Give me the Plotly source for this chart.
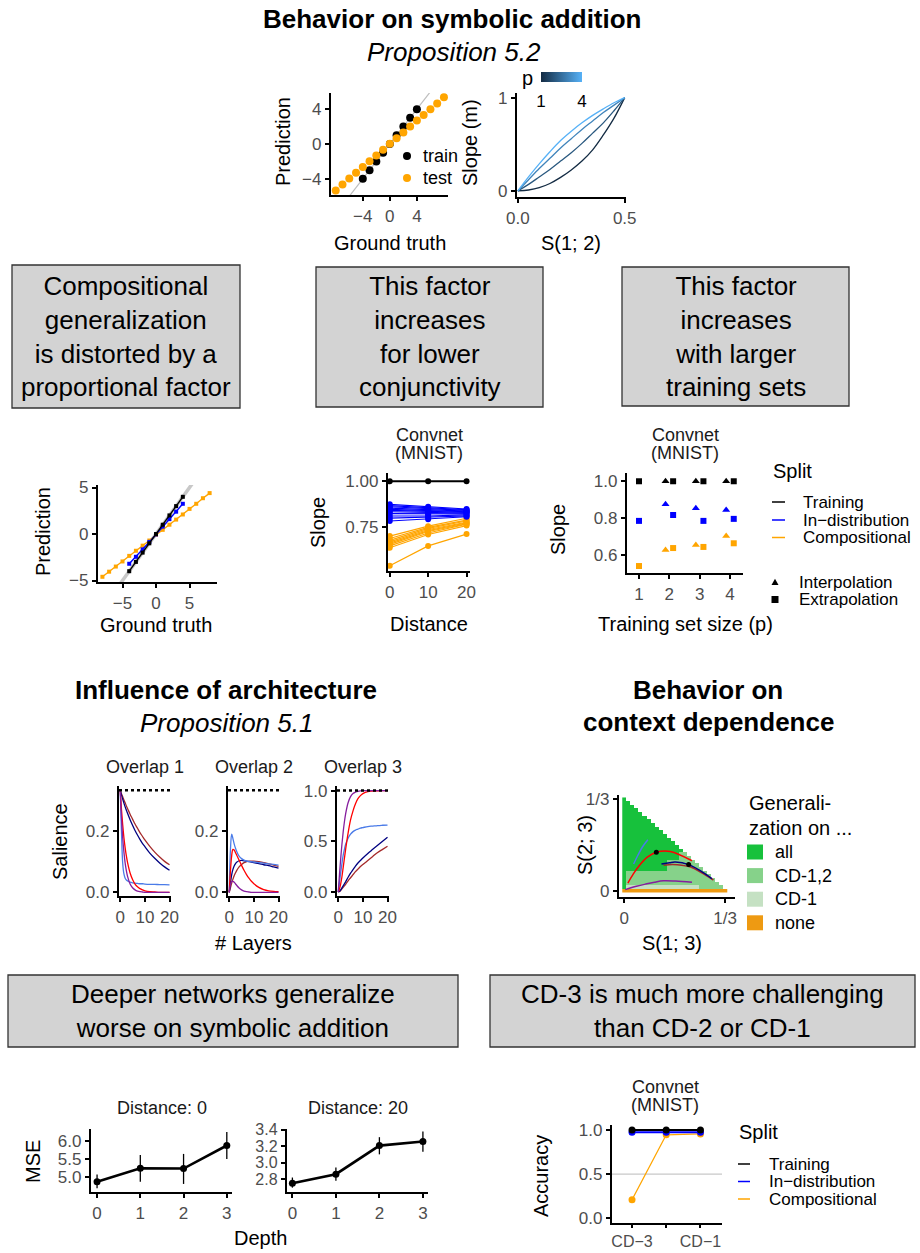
import plotly.graph_objects as go

W, H = 920, 1253
FONT = "Liberation Sans, Arial, sans-serif"
GREY_TICK = "#4D4D4D"
STRIP = "#1A1A1A"
ORANGE = "#FFA500"
BLUE = "#0000FF"
BLACK = "#000000"
C_BROWN = "#A52A2A"
C_NAVY = "#000080"
C_BLUE = "#4A7BE8"
C_RED = "#FF0000"
C_PURPLE = "#861E9E"

# ---------------- data ----------------
# symbolic addition: prediction vs ground truth
sa_train_truth = [-4, -3, -2, -1, 0, 1, 2, 3, 4]
sa_train_pred = [-4, -3, -2, -1, 0, 1, 2, 3, 4]
sa_test_truth = [-8, -7, -6, -5, -4, -3, -2, -1, 0, 1, 2, 3, 4, 5, 6, 7, 8]
sa_test_pred = [-5.33, -4.65, -3.96, -3.31, -2.63, -1.98, -1.33, -0.65, 0.02,
                0.67, 1.33, 2.0, 2.69, 3.33, 3.98, 4.65, 5.37]
identity_line = [-10, 10]

# slope m vs S(1;2) for p = 1..4
s12 = [0, 0.05, 0.1, 0.15, 0.2, 0.25, 0.3, 0.35, 0.4, 0.45, 0.5]
slope_p1 = [0, 0.01, 0.035, 0.08, 0.145, 0.225, 0.32, 0.44, 0.6, 0.78, 1.0]
slope_p2 = [0, 0.07, 0.15, 0.23, 0.32, 0.41, 0.51, 0.62, 0.73, 0.86, 1.0]
slope_p3 = [0, 0.12, 0.24, 0.35, 0.46, 0.56, 0.66, 0.75, 0.84, 0.92, 1.0]
slope_p4 = [0, 0.15, 0.29, 0.42, 0.54, 0.64, 0.73, 0.81, 0.88, 0.945, 1.0]
p_values = [1, 2, 3, 4]
p_colors = ["#132B43", "#29587F", "#4084BB", "#56B1F7"]

# convnet prediction vs ground truth
cn_train_truth = [-4, -3, -2, -1, 0, 1, 2, 3, 4]
cn_train_pred = [-4, -3, -2, -1, 0, 1, 2, 3, 4]
cn_id_truth = [-4, -3, -2, -1, 0, 1, 2, 3, 4]
cn_id_pred = [-3.2, -2.45, -1.65, -0.85, -0.05, 0.8, 1.6, 2.4, 3.25]
cn_comp_truth = [-8, -7, -6, -5, -4, -3, -2, -1, 0, 1, 2, 3, 4, 5, 6, 7, 8]
cn_comp_pred = [-4.6, -4.05, -3.5, -2.95, -2.35, -1.8, -1.25, -0.7, -0.1,
                0.45, 1.0, 1.55, 2.1, 2.7, 3.25, 3.85, 4.4]

# slope vs distance
distance = [0, 10, 20]
slope_train = [1.0, 1.0, 1.0]
slope_id = [
    [0.875, 0.862, 0.850], [0.868, 0.857, 0.846], [0.862, 0.852, 0.842],
    [0.855, 0.846, 0.838], [0.848, 0.840, 0.835], [0.842, 0.835, 0.832],
    [0.835, 0.830, 0.828], [0.825, 0.822, 0.823], [0.812, 0.812, 0.818],
    [0.800, 0.805, 0.812], [0.785, 0.795, 0.808]]
slope_comp = [
    [0.703, 0.757, 0.800], [0.690, 0.750, 0.790], [0.680, 0.745, 0.785],
    [0.672, 0.739, 0.778], [0.665, 0.733, 0.775], [0.658, 0.728, 0.770],
    [0.650, 0.720, 0.768], [0.640, 0.712, 0.760], [0.542, 0.650, 0.714]]

# slope vs training set size
train_size = [1, 2, 3, 4]
ts_train_interp = [None, 1.0, 1.0, 1.0]
ts_train_extrap = [1.0, 1.0, 1.0, 1.0]
ts_id_interp = [None, 0.875, 0.853, 0.844]
ts_id_extrap = [0.784, 0.816, 0.784, 0.795]
ts_comp_interp = [None, 0.625, 0.653, 0.702]
ts_comp_extrap = [0.538, 0.636, 0.642, 0.662]

# salience vs number of layers
layers = [0, 0.5, 1, 1.5, 2, 2.5, 3, 4, 5, 6, 7, 8, 9, 10, 12, 14, 16, 18, 20]
ov1_brown = [0.333, 0.322, 0.312, 0.301, 0.292, 0.282, 0.273, 0.255, 0.239, 0.223, 0.209, 0.195, 0.183, 0.171, 0.150, 0.131, 0.115, 0.101, 0.090]
ov1_navy = [0.333, 0.318, 0.304, 0.291, 0.279, 0.268, 0.257, 0.237, 0.219, 0.202, 0.187, 0.173, 0.160, 0.149, 0.128, 0.111, 0.096, 0.083, 0.072]
ov1_blue = [0.333, 0.200, 0.095, 0.060, 0.046, 0.040, 0.037, 0.033, 0.031, 0.030, 0.029, 0.028, 0.028, 0.027, 0.026, 0.026, 0.025, 0.025, 0.024]
ov1_red = [0.333, 0.271, 0.220, 0.178, 0.145, 0.118, 0.096, 0.063, 0.042, 0.027, 0.018, 0.012, 0.008, 0.005, 0.002, 0.001, 0.0, 0.0, 0.0]
ov1_purple = [0.333, 0.244, 0.178, 0.131, 0.095, 0.070, 0.051, 0.027, 0.015, 0.008, 0.004, 0.002, 0.001, 0.0, 0.0, 0.0, 0.0, 0.0, 0.0]
ov2_brown = [0, 0.015, 0.03, 0.043, 0.054, 0.063, 0.071, 0.083, 0.091, 0.097, 0.100, 0.102, 0.102, 0.102, 0.100, 0.097, 0.093, 0.089, 0.085]
ov2_navy = [0, 0.03, 0.058, 0.075, 0.086, 0.093, 0.098, 0.103, 0.104, 0.103, 0.102, 0.100, 0.099, 0.097, 0.094, 0.090, 0.087, 0.083, 0.079]
ov2_blue = [0, 0.14, 0.19, 0.175, 0.158, 0.145, 0.134, 0.118, 0.110, 0.105, 0.102, 0.101, 0.100, 0.099, 0.097, 0.095, 0.093, 0.091, 0.089]
ov2_red = [0, 0.07, 0.12, 0.14, 0.138, 0.130, 0.122, 0.105, 0.088, 0.072, 0.058, 0.046, 0.036, 0.028, 0.016, 0.009, 0.005, 0.003, 0.002]
ov2_purple = [0, 0.025, 0.035, 0.036, 0.033, 0.028, 0.023, 0.014, 0.008, 0.004, 0.002, 0.001, 0.0, 0.0, 0.0, 0.0, 0.0, 0.0, 0.0]
ov3_brown = [0, 0.004, 0.015, 0.03, 0.045, 0.06, 0.075, 0.11, 0.14, 0.17, 0.2, 0.225, 0.25, 0.27, 0.31, 0.35, 0.39, 0.42, 0.45]
ov3_navy = [0, 0.005, 0.02, 0.04, 0.06, 0.08, 0.10, 0.145, 0.185, 0.22, 0.255, 0.285, 0.31, 0.335, 0.38, 0.42, 0.46, 0.50, 0.54]
ov3_blue = [0, 0.09, 0.19, 0.28, 0.36, 0.42, 0.47, 0.53, 0.57, 0.595, 0.61, 0.62, 0.63, 0.635, 0.645, 0.65, 0.655, 0.658, 0.66]
ov3_red = [0, 0.03, 0.08, 0.15, 0.24, 0.33, 0.42, 0.58, 0.71, 0.80, 0.87, 0.92, 0.95, 0.97, 0.99, 0.995, 0.998, 1.0, 1.0]
ov3_purple = [0, 0.17, 0.33, 0.47, 0.59, 0.69, 0.77, 0.88, 0.94, 0.97, 0.985, 0.993, 0.997, 0.999, 1.0, 1.0, 1.0, 1.0, 1.0]
salience_ceiling = [1 / 3, 1 / 3, 1.0]

# context dependence map
cd_n = 25
cd1_top = [0] + [1] * 18 + [0] * 7
cd12_top = [0] + [5] * 10 + [8] * 3 + [10] * 2 + [25] * 10
cd_labels = ["all", "CD-1,2", "CD-1", "none"]
cd_colors = ["#17C13C", "#86D28A", "#C5E1C3", "#EE9A12"]
cd_blue_x = [0.031, 0.045, 0.06, 0.078]
cd_blue_y = [0.098, 0.13, 0.16, 0.186]
cd_red_x = [0.012, 0.03, 0.048, 0.075, 0.106, 0.152, 0.224]
cd_red_y = [0.029, 0.062, 0.09, 0.122, 0.141, 0.144, 0.110]
cd_navy_x = [0.123, 0.15, 0.169, 0.213, 0.25, 0.29]
cd_navy_y = [0.098, 0.103, 0.105, 0.096, 0.075, 0.045]
cd_brown_x = [0.13, 0.16, 0.19, 0.22, 0.255, 0.295]
cd_brown_y = [0.094, 0.096, 0.094, 0.087, 0.067, 0.040]
cd_purple_x = [0.003, 0.04, 0.07, 0.1, 0.13, 0.17, 0.224]
cd_purple_y = [0.005, 0.017, 0.025, 0.032, 0.037, 0.036, 0.032]
cd_dot_x = [0.106, 0.213]
cd_dot_y = [0.141, 0.096]

# MSE vs depth
depth = [0, 1, 2, 3]
mse_d0 = [4.88, 5.25, 5.24, 5.87]
mse_d0_lo = [4.70, 4.88, 4.82, 5.50]
mse_d0_hi = [5.08, 5.61, 5.64, 6.24]
mse_d20 = [2.747, 2.858, 3.207, 3.257]
mse_d20_lo = [2.693, 2.776, 3.10, 3.133]
mse_d20_hi = [2.817, 2.94, 3.31, 3.38]

# accuracy per CD split
cd_split = ["CD−3", "CD−2", "CD−1"]
acc_train = [1.0, 1.0, 1.0]
acc_id = [0.975, 0.975, 0.975]
acc_comp = [0.21, 0.945, 0.955]
acc_chance = 0.5

# ---------------- helpers ----------------
layout_axes = {}


def axis_pair(n, xpx, ypx, xr, yr, xt, yt, xtt=None, ytt=None, tsize=17, xtsize=None):
    sx = "" if n == 1 else str(n)
    common = dict(showline=True, linecolor="black", linewidth=2.2, ticks="outside",
                  ticklen=4, tickwidth=2, tickcolor="black", showgrid=False,
                  zeroline=False, fixedrange=True, automargin=False)
    xa = dict(domain=[xpx[0] / W, xpx[1] / W], range=xr, anchor="y" + sx, tickvals=xt,
              tickfont=dict(family=FONT, size=xtsize or tsize, color=GREY_TICK), **common)
    ya = dict(domain=[1 - ypx[1] / H, 1 - ypx[0] / H], range=yr, anchor="x" + sx, tickvals=yt,
              tickfont=dict(family=FONT, size=tsize, color=GREY_TICK), **common)
    if xtt is not None:
        xa["ticktext"] = xtt
    if ytt is not None:
        ya["ticktext"] = ytt
    layout_axes["xaxis" + sx] = xa
    layout_axes["yaxis" + sx] = ya
    return "x" + sx, "y" + sx


annotations = []
shapes = []


def px(x):
    return x / W


def py(y):
    return 1 - y / H


def txt(x, y, text, size=20, color="black", angle=0, xanchor="center"):
    annotations.append(dict(x=px(x), y=py(y), xref="paper", yref="paper", text=text,
                            showarrow=False, font=dict(family=FONT, size=size, color=color),
                            textangle=angle, xanchor=xanchor, yanchor="middle"))


def box(x0, y0, x1, y1, text):
    shapes.append(dict(type="rect", xref="paper", yref="paper", x0=px(x0), x1=px(x1),
                       y0=py(y1), y1=py(y0), fillcolor="#D3D3D3",
                       line=dict(color="#333333", width=1.3), layer="below"))
    txt((x0 + x1) / 2, (y0 + y1) / 2, text, size=26)


def hline_key(x0, x1, y, color):
    shapes.append(dict(type="line", xref="paper", yref="paper", x0=px(x0), x1=px(x1),
                       y0=py(y), y1=py(y), line=dict(color=color, width=1.5)))


def rect_key(x0, y0, x1, y1, color):
    shapes.append(dict(type="rect", xref="paper", yref="paper", x0=px(x0), x1=px(x1),
                       y0=py(y1), y1=py(y0), fillcolor=color, line=dict(width=0)))


def circle_key(x, y, r, color):
    shapes.append(dict(type="circle", xref="paper", yref="paper", x0=px(x - r), x1=px(x + r),
                       y0=py(y + r), y1=py(y - r), fillcolor=color, line=dict(width=0)))


def tri_key(x, y, s, color):
    path = "M {:.5f},{:.5f} L {:.5f},{:.5f} L {:.5f},{:.5f} Z".format(
        px(x - s), py(y + s * 0.85), px(x + s), py(y + s * 0.85), px(x), py(y - s * 0.95))
    shapes.append(dict(type="path", xref="paper", yref="paper", path=path,
                       fillcolor=color, line=dict(width=0)))


traces = []


def line(xa, ya, x, y, color, width=1.3, mode="lines", msize=6, symbol="circle", shape="linear"):
    traces.append(go.Scatter(x=x, y=y, xaxis=xa, yaxis=ya, mode=mode,
                             line=dict(color=color, width=width, shape=shape),
                             marker=dict(color=color, size=msize, symbol=symbol),
                             hoverinfo="skip", showlegend=False))


# ---------------- top: symbolic addition ----------------
txt(452, 19, "<b>Behavior on symbolic addition</b>", size=26)
txt(454, 52, "<i>Proposition 5.2</i>", size=26)

xa, ya = axis_pair(1, (331, 448), (93, 195), [-8.7, 8.6], [-5.85, 5.85],
                   [-4, 0, 4], [-4, 0, 4], ["−4", "0", "4"], ["−4", "0", "4"])
line(xa, ya, identity_line, identity_line, "#BEBEBE", width=1.2)
line(xa, ya, sa_train_truth, sa_train_pred, BLACK, mode="markers", msize=8)
line(xa, ya, sa_test_truth, sa_test_pred, ORANGE, mode="markers", msize=8)
txt(283, 142, "Prediction", angle=-90)
txt(390, 243, "Ground truth")
circle_key(407, 156, 4, BLACK)
circle_key(407, 178, 4, ORANGE)
txt(421, 156, "train", size=18, xanchor="left")
txt(421, 178, "test", size=18, xanchor="left")

xa, ya = axis_pair(2, (517, 626), (93, 197), [-0.004, 0.506], [-0.065, 1.05],
                   [0, 0.5], [0, 1], ["0.0", "0.5"], ["0", "1"])
for vals, col in zip([slope_p1, slope_p2, slope_p3, slope_p4], p_colors):
    line(xa, ya, s12, vals, col, width=1.3, shape="spline")
traces.append(go.Scatter(x=[None, None], y=[None, None], xaxis=xa, yaxis=ya, mode="markers",
                         marker=dict(color=[p_values[0], p_values[-1]], cmin=1, cmax=4,
                                     colorscale=[[0, "#132B43"], [1, "#56B1F7"]], showscale=True,
                                     colorbar=dict(orientation="h", x=px(561.5), xanchor="center",
                                                   y=py(72), yanchor="top", len=41, lenmode="pixels",
                                                   thickness=10, thicknessmode="pixels", outlinewidth=0,
                                                   tickvals=[1, 4], ticktext=["1", "4"], ticks="outside",
                                                   ticklen=5, tickcolor="rgba(0,0,0,0)",
                                                   xpad=0, ypad=0,
                                                   tickfont=dict(family=FONT, size=17, color=BLACK))),
                         hoverinfo="skip", showlegend=False))
txt(527, 78, "p", size=20)
txt(470, 143, "Slope (m)", angle=-90)
txt(571, 243, "S(1; 2)")

# ---------------- boxes ----------------
box(12, 265, 240, 408, "Compositional<br>generalization<br>is distorted by a<br>proportional factor")
box(316, 267, 543, 407, "This factor<br>increases<br>for lower<br>conjunctivity")
box(622, 267, 849, 406, "This factor<br>increases<br>with larger<br>training sets")

# ---------------- convnet prediction ----------------
xa, ya = axis_pair(3, (98, 217), (485, 582), [-8.66, 9.1], [-5.16, 5.27],
                   [-5, 0, 5], [-5, 0, 5], ["−5", "0", "5"], ["−5", "0", "5"])
line(xa, ya, identity_line, identity_line, "#C8C8C8", width=3.5)
line(xa, ya, cn_comp_truth, cn_comp_pred, ORANGE, width=1.4, mode="lines+markers", msize=4, symbol="square")
line(xa, ya, cn_id_truth, cn_id_pred, BLUE, width=1.4, mode="lines+markers", msize=4, symbol="square")
line(xa, ya, cn_train_truth, cn_train_pred, BLACK, width=1.4, mode="lines+markers", msize=4, symbol="square")
txt(43, 532, "Prediction", angle=-90)
txt(156, 625, "Ground truth")

# slope vs distance
xa, ya = axis_pair(4, (388, 470), (473, 571), [-0.45, 20.9], [0.514, 1.045],
                   [0, 10, 20], [0.75, 1.0], ["0", "10", "20"], ["0.75", "1.00"])
for vals in slope_comp:
    line(xa, ya, distance, vals, ORANGE, width=1.2, mode="lines+markers", msize=6)
for vals in slope_id:
    line(xa, ya, distance, vals, BLUE, width=1.2, mode="lines+markers", msize=6)
line(xa, ya, distance, slope_train, BLACK, width=2, mode="lines+markers", msize=6)
txt(429, 435, "Convnet", size=18, color=STRIP)
txt(429, 453, "(MNIST)", size=18, color=STRIP)
txt(318, 523, "Slope", angle=-90)
txt(429, 624, "Distance")

# slope vs training set size
xa, ya = axis_pair(5, (627, 743), (473, 573), [0.604, 4.43], [0.5, 1.045],
                   [1, 2, 3, 4], [0.6, 0.8, 1.0], ["1", "2", "3", "4"], ["0.6", "0.8", "1.0"])
dodge = 0.125
x_interp = [p - dodge for p in train_size]
x_extrap = [p + dodge if ti is not None else p for p, ti in zip(train_size, ts_train_interp)]
for yi, ye, col in [(ts_train_interp, ts_train_extrap, BLACK), (ts_id_interp, ts_id_extrap, BLUE),
                    (ts_comp_interp, ts_comp_extrap, ORANGE)]:
    line(xa, ya, x_interp, yi, col, mode="markers", msize=7, symbol="triangle-up")
    line(xa, ya, x_extrap, ye, col, mode="markers", msize=6, symbol="square")
txt(685, 435, "Convnet", size=18, color=STRIP)
txt(685, 453, "(MNIST)", size=18, color=STRIP)
txt(558, 530, "Slope", angle=-90)
txt(685, 624, "Training set size (p)")
txt(771, 471, "Split", size=20, xanchor="left")
for yy, col, lab in [(502, BLACK, "Training"), (520, BLUE, "In−distribution"), (537.5, ORANGE, "Compositional")]:
    hline_key(772, 785, yy, col)
    txt(801, yy, lab, size=17, xanchor="left")
tri_key(775, 582, 3.5, BLACK)
rect_key(771.5, 596, 778.5, 603, BLACK)
txt(797, 582, "Interpolation", size=17, xanchor="left")
txt(797, 599.5, "Extrapolation", size=17, xanchor="left")

# ---------------- architecture ----------------
txt(226, 690, "<b>Influence of architecture</b>", size=26)
txt(226, 723, "<i>Proposition 5.1</i>", size=26)
sal_panels = [
    (6, (119, 171), [-0.012, 0.347], [0, 0.2], ["0.0", "0.2"],
     [ov1_brown, ov1_navy, ov1_blue, ov1_red, ov1_purple], "Overlap 1"),
    (7, (228, 280), [-0.012, 0.347], [0, 0.2], ["0.0", "0.2"],
     [ov2_brown, ov2_navy, ov2_blue, ov2_red, ov2_purple], "Overlap 2"),
    (8, (337, 389), [-0.04, 1.045], [0, 0.5, 1.0], ["0.0", "0.5", "1.0"],
     [ov3_brown, ov3_navy, ov3_blue, ov3_red, ov3_purple], "Overlap 3"),
]
for k, (n, xr_px, yr, yt, ytt, curves, title) in enumerate(sal_panels):
    xa, ya = axis_pair(n, xr_px, (786, 896), [-0.5, 20.6], yr, [0, 10, 20], yt, ["0", "10", "20"], ytt)
    for vals, col in zip(curves, [C_BROWN, C_NAVY, C_BLUE, C_RED, C_PURPLE]):
        line(xa, ya, layers, vals, col, width=1.3, shape="spline")
    shapes.append(dict(type="line", xref=xa + " domain", yref=ya, x0=0, x1=1,
                       y0=salience_ceiling[k], y1=salience_ceiling[k],
                       line=dict(color="black", width=2.6, dash="dot")))
    txt((xr_px[0] + xr_px[1]) / 2, 767, title, size=18, color=STRIP)
txt(60, 842, "Salience", angle=-90)
txt(253, 943, "# Layers")

# ---------------- context dependence ----------------
txt(708, 690, "<b>Behavior on</b>", size=26)
txt(708, 722, "<b>context dependence</b>", size=26)
xa, ya = axis_pair(9, (619, 735), (795, 897), [-0.0175, 0.3664], [-0.0218, 0.349],
                   [0, 1 / 3], [0, 1 / 3], ["0", "1/3"], ["0", "1/3"])
cd_step = (1 / 3) / cd_n
cd_grid = [i * cd_step for i in range(cd_n + 1)]
z = []
for j in range(cd_n + 1):
    row = []
    for i in range(cd_n + 1):
        if i + j > cd_n:
            row.append(None)
        elif j == 0:
            row.append(3)
        elif j <= cd1_top[i]:
            row.append(2)
        elif j <= cd12_top[i]:
            row.append(1)
        else:
            row.append(0)
    z.append(row)
cscale = []
for k, c in enumerate(cd_colors):
    cscale.append([k / 4, c])
    cscale.append([(k + 1) / 4, c])
traces.append(go.Heatmap(x=cd_grid, y=cd_grid, z=z, xaxis=xa, yaxis=ya, colorscale=cscale,
                         zmin=-0.5, zmax=3.5, showscale=False, hoverinfo="skip"))
line(xa, ya, cd_purple_x, cd_purple_y, C_PURPLE, width=1.5, shape="spline")
line(xa, ya, cd_brown_x, cd_brown_y, C_BROWN, width=1.5, shape="spline")
line(xa, ya, cd_navy_x, cd_navy_y, C_NAVY, width=1.5, shape="spline")
line(xa, ya, cd_blue_x, cd_blue_y, C_BLUE, width=1.5, shape="spline")
line(xa, ya, cd_red_x, cd_red_y, C_RED, width=1.5, shape="spline")
line(xa, ya, cd_dot_x, cd_dot_y, BLACK, mode="markers", msize=5)
txt(585, 845, "S(2; 3)", angle=-90)
txt(672, 943, "S(1; 3)")
txt(747, 803, "Generali-", size=20, xanchor="left")
txt(747, 828, "zation on ...", size=20, xanchor="left")
for k, (lab, col) in enumerate(zip(cd_labels, cd_colors)):
    yy = 852 + k * 23.6
    rect_key(747, yy - 7.5, 763, yy + 7.5, col)
    txt(773, yy, lab, size=18, xanchor="left")

# ---------------- lower boxes ----------------
box(8, 975, 458, 1047, "Deeper networks generalize<br>worse on symbolic addition")
box(490, 975, 915, 1047, "CD-3 is much more challenging<br>than CD-2 or CD-1")

# ---------------- MSE vs depth ----------------
for n, xr_px, xr, yr, yt, ytt, vals, lo, hi, title, ts in [
    (10, (91, 232), [-0.14, 3.12], [4.60, 6.32], [5.0, 5.5, 6.0], ["5.0", "5.5", "6.0"],
     mse_d0, mse_d0_lo, mse_d0_hi, "Distance: 0", 17),
    (11, (287, 428), [-0.124, 3.117], [2.64, 3.41], [2.8, 3.0, 3.2, 3.4], ["2.8", "3.0", "3.2", "3.4"],
     mse_d20, mse_d20_lo, mse_d20_hi, "Distance: 20", 16)]:
    xa, ya = axis_pair(n, xr_px, (1129, 1192), xr, yr, depth, yt, [str(d) for d in depth], ytt,
                       tsize=ts, xtsize=17)
    traces.append(go.Scatter(x=depth, y=vals, xaxis=xa, yaxis=ya, mode="lines+markers",
                             line=dict(color=BLACK, width=2.6), marker=dict(color=BLACK, size=7),
                             error_y=dict(type="data", symmetric=False,
                                          array=[h - v for h, v in zip(hi, vals)],
                                          arrayminus=[v - l for v, l in zip(vals, lo)],
                                          width=0, thickness=1.3, color=BLACK),
                             hoverinfo="skip", showlegend=False))
    txt((xr_px[0] + xr_px[1]) / 2, 1108, title, size=18, color=STRIP)
txt(33, 1162, "MSE", angle=-90)
txt(260, 1238, "Depth")

# ---------------- accuracy ----------------
xa, ya = axis_pair(12, (612, 722), (1125, 1223), [0.415, 3.63], [-0.053, 1.056],
                   [1, 2, 3], [0.0, 0.5, 1.0], ["CD−3", "", "CD−1"], ["0.0", "0.5", "1.0"],
                   xtsize=16)
layout_axes["xaxis12"]["ticklen"] = 3
shapes.append(dict(type="line", xref=xa + " domain", yref=ya, x0=0, x1=1, y0=acc_chance, y1=acc_chance,
                   line=dict(color="#C8C8C8", width=1.3), layer="below"))
cd_pos = [1, 2, 3]
line(xa, ya, cd_pos, acc_comp, ORANGE, width=1.3, mode="lines+markers", msize=7)
line(xa, ya, cd_pos, acc_id, BLUE, width=2, mode="lines+markers", msize=7)
line(xa, ya, cd_pos, acc_train, BLACK, width=2, mode="lines+markers", msize=7)
txt(665, 1087, "Convnet", size=18, color=STRIP)
txt(665, 1105, "(MNIST)", size=18, color=STRIP)
txt(541, 1176, "Accuracy", angle=-90)
txt(737, 1132, "Split", size=20, xanchor="left")
for yy, col, lab in [(1164, BLACK, "Training"), (1181.5, BLUE, "In−distribution"), (1199, ORANGE, "Compositional")]:
    hline_key(738, 750, yy, col)
    txt(767, yy, lab, size=17, xanchor="left")

fig = go.Figure(data=traces)
fig.update_layout(width=W, height=H, margin=dict(l=0, r=0, t=0, b=0, pad=0, autoexpand=False),
                  paper_bgcolor="white", plot_bgcolor="white", showlegend=False,
                  font=dict(family=FONT), annotations=annotations, shapes=shapes, **layout_axes)
fig.write_html("out.html", config={"displayModeBar": False, "staticPlot": True},
               post_script="document.body.style.margin='0px';document.body.style.overflow='hidden';")
